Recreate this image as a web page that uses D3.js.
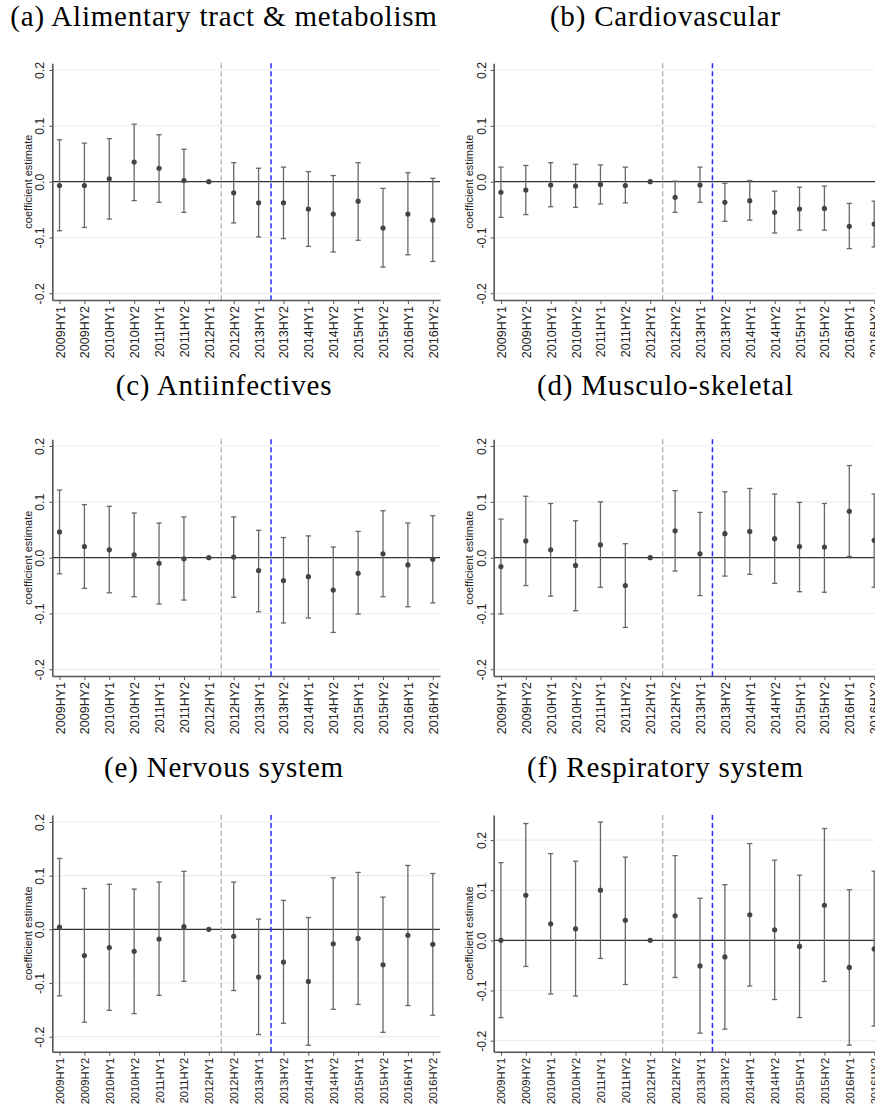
<!DOCTYPE html>
<html><head><meta charset="utf-8">
<script src="https://cdn.jsdelivr.net/npm/d3@7"></script>
<style>body{margin:0;background:#fff}svg{display:block}</style>
</head><body><svg id="c" width="875" height="1107"></svg>
<script>
const categories = ["2009HY1","2009HY2","2010HY1","2010HY2","2011HY1","2011HY2","2012HY1","2012HY2","2013HY1","2013HY2","2014HY1","2014HY2","2015HY1","2015HY2","2016HY1","2016HY2"];
const titles = ["(a) Alimentary tract & metabolism","(b) Cardiovascular","(c) Antiinfectives","(d) Musculo-skeletal","(e) Nervous system","(f) Respiratory system"];
const yLabel = "coefficient estimate";
const yTicks = [-0.2,-0.1,0,0.1,0.2];
const markerAfter = ["2012HY1","2013HY1"];

const estA = [-0.007,-0.007,0.005,0.035,0.024,0.002,0,-0.020,-0.038,-0.038,-0.049,-0.058,-0.035,-0.083,-0.058,-0.069];
const loA  = [-0.088,-0.082,-0.067,-0.034,-0.037,-0.055,0,-0.074,-0.099,-0.102,-0.116,-0.126,-0.105,-0.153,-0.131,-0.143];
const hiA  = [0.075,0.069,0.077,0.103,0.084,0.058,0,0.034,0.024,0.026,0.018,0.011,0.034,-0.012,0.016,0.006];

const estB = [-0.019,-0.015,-0.006,-0.008,-0.005,-0.007,0,-0.028,-0.006,-0.037,-0.034,-0.055,-0.049,-0.048,-0.080,-0.076];
const loB  = [-0.064,-0.059,-0.045,-0.046,-0.040,-0.038,0,-0.055,-0.037,-0.071,-0.069,-0.092,-0.087,-0.087,-0.120,-0.117];
const hiB  = [0.026,0.029,0.034,0.031,0.030,0.026,0,0.001,0.026,-0.003,0.002,-0.017,-0.010,-0.008,-0.039,-0.035];

const estC = [0.046,0.020,0.014,0.005,-0.010,-0.002,0,0.001,-0.023,-0.041,-0.034,-0.058,-0.028,0.007,-0.013,-0.003];
const loC  = [-0.029,-0.055,-0.063,-0.070,-0.083,-0.076,0,-0.071,-0.097,-0.117,-0.108,-0.134,-0.101,-0.070,-0.088,-0.081];
const hiC  = [0.121,0.095,0.092,0.080,0.062,0.073,0,0.073,0.049,0.036,0.039,0.019,0.047,0.084,0.062,0.075];

const estD = [-0.016,0.030,0.014,-0.014,0.023,-0.050,0,0.048,0.007,0.043,0.047,0.034,0.020,0.019,0.083,0.031];
const loD  = [-0.101,-0.050,-0.069,-0.095,-0.053,-0.125,0,-0.024,-0.068,-0.033,-0.030,-0.046,-0.061,-0.062,0.002,-0.053];
const hiD  = [0.069,0.110,0.097,0.066,0.100,0.025,0,0.120,0.081,0.118,0.124,0.114,0.099,0.097,0.165,0.114];

const estE = [0.004,-0.049,-0.034,-0.041,-0.018,0.005,0,-0.013,-0.089,-0.061,-0.097,-0.027,-0.017,-0.066,-0.011,-0.028];
const loE  = [-0.124,-0.173,-0.151,-0.157,-0.123,-0.097,0,-0.114,-0.196,-0.175,-0.216,-0.149,-0.140,-0.192,-0.142,-0.160];
const hiE  = [0.132,0.076,0.084,0.075,0.088,0.108,0,0.088,0.019,0.054,0.022,0.096,0.106,0.060,0.119,0.104];

const estF = [0.000,0.090,0.033,0.023,0.100,0.040,0,0.049,-0.051,-0.033,0.051,0.021,-0.012,0.070,-0.054,-0.017];
const loF  = [-0.154,-0.052,-0.107,-0.111,-0.036,-0.088,0,-0.074,-0.185,-0.177,-0.091,-0.118,-0.154,-0.082,-0.209,-0.171];
const hiF  = [0.155,0.233,0.173,0.158,0.236,0.166,0,0.169,0.084,0.111,0.193,0.160,0.130,0.223,0.101,0.138];

const domainStd = [-0.212,0.212];
const domainE = [-0.228,0.213];
const domainF = [-0.222,0.25];

const panels = [
  {title:titles[0], est:estA, lo:loA, hi:hiA, domain:domainStd},
  {title:titles[1], est:estB, lo:loB, hi:hiB, domain:domainStd},
  {title:titles[2], est:estC, lo:loC, hi:hiC, domain:domainStd},
  {title:titles[3], est:estD, lo:loD, hi:hiD, domain:domainStd},
  {title:titles[4], est:estE, lo:loE, hi:hiE, domain:domainE},
  {title:titles[5], est:estF, lo:loF, hi:hiF, domain:domainF}
];

const svg = d3.select("#c");
const colX = [0, 441.4];
const rowTop = [63.3, 439.3, 815];
const titleY = [26, 395, 777];
const xLabelSize = ["12.5px", "12.5px", "11.2px"];
const axisLeft = 52.3, plotW = 387.7, plotH = 236.7;
const sans = "'Liberation Sans', Arial, sans-serif";

panels.forEach((p, i) => {
  const col = i % 2, row = Math.floor(i / 2);
  const pg = svg.append("g").attr("transform", `translate(${colX[col]},0)`);
  pg.append("text")
    .attr("x", 224).attr("y", titleY[row])
    .attr("text-anchor", "middle")
    .style("font-family", "'Liberation Serif', 'Times New Roman', serif")
    .style("font-size", "29px").style("letter-spacing", "0.8px").attr("fill", "#000")
    .text(p.title);

  const g = pg.append("g").attr("transform", `translate(${axisLeft},${rowTop[row]})`);
  const x = d3.scalePoint().domain(categories).range([0, plotW]).padding(0.29);
  const y = d3.scaleLinear().domain(p.domain).range([plotH, 0]);

  // grid
  g.selectAll("line.grid").data(yTicks.filter(d => d !== 0)).join("line")
    .attr("x1", 0).attr("x2", plotW)
    .attr("y1", d => y(d)).attr("y2", d => y(d))
    .attr("stroke", "#e8efee").attr("stroke-width", 1.2);

  // zero line
  g.append("line").attr("x1", 0).attr("x2", plotW)
    .attr("y1", y(0)).attr("y2", y(0))
    .attr("stroke", "#333").attr("stroke-width", 1.3);

  // vertical event lines
  const mid = c => { const k = categories.indexOf(c); return (x(categories[k]) + x(categories[k+1])) / 2; };
  g.append("line").attr("x1", mid(markerAfter[0])).attr("x2", mid(markerAfter[0]))
    .attr("y1", 0).attr("y2", plotH)
    .attr("stroke", "#a8a8a8").attr("stroke-width", 1.2).attr("stroke-dasharray", "5,3");
  g.append("line").attr("x1", mid(markerAfter[1])).attr("x2", mid(markerAfter[1]))
    .attr("y1", 0).attr("y2", plotH)
    .attr("stroke", "#2a2aff").attr("stroke-width", 1.5).attr("stroke-dasharray", "5,3");

  // error bars
  const data = categories.map((c, k) => ({c, est:p.est[k], lo:p.lo[k], hi:p.hi[k]}));
  const bars = g.selectAll("g.bar").data(data.filter(d => d.hi !== d.lo)).join("g")
    .attr("stroke", "#686868").attr("stroke-width", 1.3);
  bars.append("line").attr("x1", d => x(d.c)).attr("x2", d => x(d.c))
    .attr("y1", d => y(d.lo)).attr("y2", d => y(d.hi));
  bars.append("line").attr("x1", d => x(d.c) - 2.6).attr("x2", d => x(d.c) + 2.6)
    .attr("y1", d => y(d.lo)).attr("y2", d => y(d.lo));
  bars.append("line").attr("x1", d => x(d.c) - 2.6).attr("x2", d => x(d.c) + 2.6)
    .attr("y1", d => y(d.hi)).attr("y2", d => y(d.hi));
  g.selectAll("circle.pt").data(data).join("circle")
    .attr("cx", d => x(d.c)).attr("cy", d => y(d.est)).attr("r", 2.6)
    .attr("fill", "#444");

  // y axis
  const ya = g.append("g").call(d3.axisLeft(y).tickValues(yTicks).tickSize(3).tickSizeOuter(0).tickFormat(d => d.toFixed(1)));
  ya.select(".domain").attr("stroke", "#555").attr("stroke-width", 1.6);
  ya.selectAll(".tick line").attr("stroke", "#555");
  ya.selectAll(".tick text")
    .attr("transform", "rotate(-90)").attr("x", 0).attr("y", -8).attr("dy", 0)
    .attr("text-anchor", "middle")
    .style("font-family", sans).style("font-size", "12.3px").attr("fill", "#222");

  // x axis
  const xa = g.append("g").attr("transform", `translate(0,${plotH})`)
    .call(d3.axisBottom(x).tickSize(4).tickSizeOuter(0));
  xa.select(".domain").attr("stroke", "#555").attr("stroke-width", 1.6);
  xa.selectAll(".tick line").attr("stroke", "#555");
  xa.selectAll(".tick text")
    .attr("transform", "rotate(-90)").attr("x", -6).attr("y", 0).attr("dy", "0.36em")
    .attr("text-anchor", "end")
    .style("font-family", sans).style("font-size", xLabelSize[row]).attr("fill", "#222");

  // y label
  g.append("text")
    .attr("transform", `translate(-20.5,${plotH/2}) rotate(-90)`)
    .attr("text-anchor", "middle")
    .style("font-family", sans).style("font-size", "11px").attr("fill", "#222")
    .text(yLabel);
});
</script>
</body></html>
